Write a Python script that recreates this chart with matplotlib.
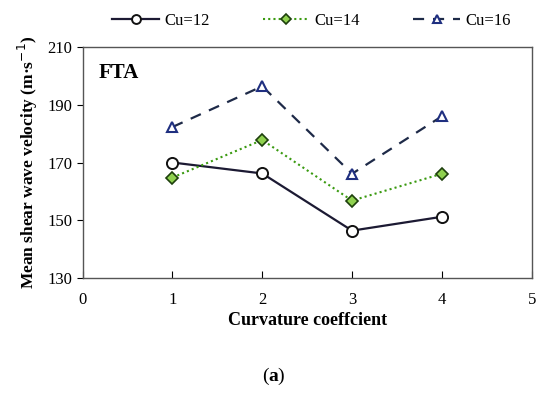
import matplotlib.pyplot as plt

plt.rcParams['font.family'] = ['Liberation Serif', 'DejaVu Serif']

curvature = [1, 2, 3, 4]
cu12 = [170.0, 166.2, 146.4, 151.2]
cu14 = [164.8, 177.8, 156.8, 166.1]
cu16 = [182.3, 196.4, 166.1, 186.0]

x_ticks = [0, 1, 2, 3, 4, 5]
y_ticks = [130, 150, 170, 190, 210]

fig = plt.figure(figsize=(5.37, 3.98), dpi=100)
ax = fig.add_axes([0.154, 0.3015, 0.836, 0.5804])

ax.plot(curvature, cu12, color='#1c1a33', lw=1.6, ls='-',
        marker='o', ms=8, mfc='white', mec='#111111', mew=1.4, label='Cu=12')
ax.plot(curvature, cu14, color='#3a9a10', lw=1.5, ls=(0, (1, 1.5)),
        marker='D', ms=6, mfc='#8fd14f', mec='#1d3f0c', mew=1.2, label='Cu=14')
ax.plot(curvature, cu16, color='#1e2a48', lw=1.6, ls=(0, (5, 4)),
        marker='^', ms=7, mfc='white', mec='#1f2f80', mew=1.5, label='Cu=16')

ax.set_xlim(0, 5)
ax.set_ylim(130, 210)
ax.set_xticks(x_ticks)
ax.set_yticks(y_ticks)
ax.tick_params(axis='x', direction='in', length=5, labelsize=12, pad=10)
ax.tick_params(axis='y', direction='out', length=4, labelsize=12)
for s in ax.spines.values():
    s.set_color('#555555')
    s.set_linewidth(1.0)

ax.set_xlabel('Curvature coeffcient', fontsize=13, fontweight='bold', labelpad=3)
ax.set_ylabel('Mean shear wave velocity (m·s$^{-1}$)', fontsize=12.5,
              fontweight='bold', labelpad=5)
ax.text(0.035, 0.93, 'FTA', transform=ax.transAxes, fontsize=15,
        fontweight='bold', va='top', ha='left')

fig.legend(loc='upper center', bbox_to_anchor=(0.58, 1.005), ncol=3,
           frameon=False, fontsize=12, handlelength=2.8, columnspacing=3.2,
           handletextpad=0.3, markerscale=0.8)

fig.text(0.5, 0.055, '(', ha='right', va='center', fontsize=14)
fig.text(0.5, 0.055, 'a', ha='left', va='center', fontsize=14, fontweight='bold')
fig.text(0.5165, 0.055, ')', ha='left', va='center', fontsize=14)

fig.savefig('out.png', dpi=100)
